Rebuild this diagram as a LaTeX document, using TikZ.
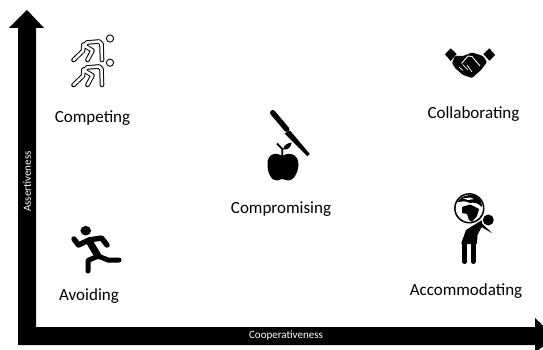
\documentclass[tikz,border=0pt]{standalone}
\usepackage{fontspec}
\setmainfont{Carlito}
\usetikzlibrary{calc}
\tikzset{%
  label/.style={font=\fontsize{17}{17}\selectfont,text=black,inner sep=0pt},
  axislabel/.style={font=\fontsize{11}{11}\selectfont,text=white,inner sep=0pt},
  limb/.style={line width=#1,line cap=round,line join=round,draw=black},
  limb/.default=5pt,
  hollow/.style={line width=#1,line cap=round,line join=round,draw=white},
  hollow/.default=3pt
}
\begin{document}
\begin{tikzpicture}[x=1pt,y=-1pt]
  \useasboundingbox (0,0) rectangle (543,350);
  % axes
  \coordinate (p0) at (18,345);
  \coordinate (p1) at (18,28);
  \coordinate (p2) at (9,28);
  \coordinate (p3) at (27,10);
  \coordinate (p4) at (44,28);
  \coordinate (p5) at (36,28);
  \coordinate (p6) at (36,327);
  \coordinate (p7) at (535,327);
  \coordinate (p8) at (535,318);
  \coordinate (p9) at (543,325.5);
  \coordinate (p10) at (543,346.5);
  \coordinate (p11) at (538.6,350);
  \coordinate (p12) at (535,350);
  \coordinate (p13) at (535,345);
  \fill[black] (p0) -- (p1) -- (p2) -- (p3) -- (p4) -- (p5) -- (p6) -- (p7) -- (p8)
    -- (p9) -- (p10) -- (p11) -- (p12) -- (p13) -- cycle;
  \node[axislabel,rotate=90] (assertiveness) at (27,181.5) {Assertiveness};
  \node[axislabel] (cooperativeness) at (286,336) {Cooperativeness};
  %%% competing
  \foreach \dy in {0,25}{
    \begin{scope}[yshift=-\dy pt]
      \draw[limb=4.6pt] (102,60) -- (101.5,44) -- (99,41.5) -- (87,42.5) -- (83.5,46.5);
      \draw[limb=4.6pt] (83.5,44.5) -- (83,51) -- (73.5,60);
      \draw[limb=4.6pt] (85,46) -- (92.5,50.5) -- (87.5,60);
      \draw[hollow=2.6pt] (102,60) -- (101.5,44) -- (99,41.5) -- (87,42.5) -- (83.5,46.5);
      \draw[hollow=2.6pt] (83.5,44.5) -- (83,51) -- (73.5,60);
      \draw[hollow=2.6pt] (85,46) -- (92.5,50.5) -- (87.5,60);
    \end{scope}
  }
  \draw[black,line width=.9pt] (110,38.5) circle (3.6);
  \draw[black,line width=.9pt] (110,62.7) circle (3.6);
  \node[label] (competing) at (92.5,118) {Competing};
  %%% collaborating
  \fill[black] (445,54.3) -- (450.7,48.3) -- (456.7,54) -- (450.7,61) -- cycle;
  \fill[black] (483.3,54) -- (489.3,48.3) -- (495,55) -- (489.3,60.7) -- cycle;
  \fill[black,rounded corners=1pt] (455,56) -- (463,56) -- (472,52.5) -- (483,56) -- (487,62)
    -- (481,70) -- (472,78) -- (463,75) -- (455,68) -- (452,63) -- cycle;
  \draw[white,line width=.9pt,line join=round] (461.5,63.5) -- (468,56) -- (472,56.5)
    -- (480,66);
  \draw[white,line width=.7pt] (459,67) -- (463,70.5) (462.5,64.5) -- (468,70) (467,65) -- (472,72);
  \node[label] (collaborating) at (473.5,114) {Collaborating};
  %%% compromising
  \draw[limb=5.4pt] (272.7,112.7) -- (286.7,129.3);
  \fill[black] (284.5,133.5) -- (290,130.5) -- (309.8,154) -- (307.3,156.3) -- cycle;
  \fill[black] (282.3,156) .. controls (276,152) and (267,153) .. (267.5,165)
    .. controls (267.5,172) and (271,181) .. (277,180.5)
    .. controls (279,180.5) and (280.5,179) .. (282.3,179)
    .. controls (284,179) and (286,180.5) .. (288,180.5)
    .. controls (294,181) and (298,172) .. (298.5,165)
    .. controls (298.5,153) and (288,152) .. (282.3,156) -- cycle;
  \draw[black,line width=1.8pt] (282.3,156) -- (282.3,149) -- (277,143.5);
  \fill[black] (283,149.5) .. controls (284,145) and (287,143) .. (291.7,142.7)
    .. controls (291,147) and (288,150.5) .. (283,149.5) -- cycle;
  \node[label] (compromising) at (281,209) {Compromising};
  %%% accommodating
  \fill[black] (469.3,208.3) circle (15.2);
  \fill[white] (469.3,208.3) circle (13.6);
  \fill[black] (457.5,202) .. controls (461,196) and (468,194.5) .. (474,195)
    .. controls (480,197) and (482,202) .. (482,207) .. controls (478,203) and (474,202) .. (470,203)
    .. controls (465,200) and (461,202) .. (457.5,202) -- cycle;
  \fill[white] (463,198.5) -- (470,197.5) -- (474,199) -- (468,200) -- cycle;
  \fill[black] (462,207) -- (470,204.5) -- (479,209) -- (477,216) -- (472,222) -- (469,220)
    -- (467,214) -- (462,213) -- cycle;
  \fill[black] (488.3,220) circle (5.5);
  \fill[black,rounded corners=.8pt] (482,220) -- (466,230) -- (461,244) -- (477,244)
    -- (477.5,235) -- (481.5,227) -- (492.5,233.5) -- (482,223.5) -- cycle;
  \draw[limb=5pt,line cap=round] (464.8,243) -- (464.8,261.5);
  \draw[limb=5pt,line cap=round] (473,243) -- (473,261.5);
  \node[label] (accommodating) at (466,291) {Accommodating};
  %%% avoiding
  \fill[black] (85.7,230.7) ellipse (5.3 and 4.8);
  \draw[limb=5.4pt] (74,239) -- (78.5,245) -- (89,240) -- (101.5,238) -- (107,245);
  \draw[limb=7pt] (89,241) -- (98,256);
  \draw[limb=5pt] (98,256) -- (88,260.5) -- (88,271);
  \draw[limb=5pt] (98,256) -- (108,260) -- (119,260);
  \node[label] (avoiding) at (89,296) {Avoiding};
\end{tikzpicture}
\end{document}
